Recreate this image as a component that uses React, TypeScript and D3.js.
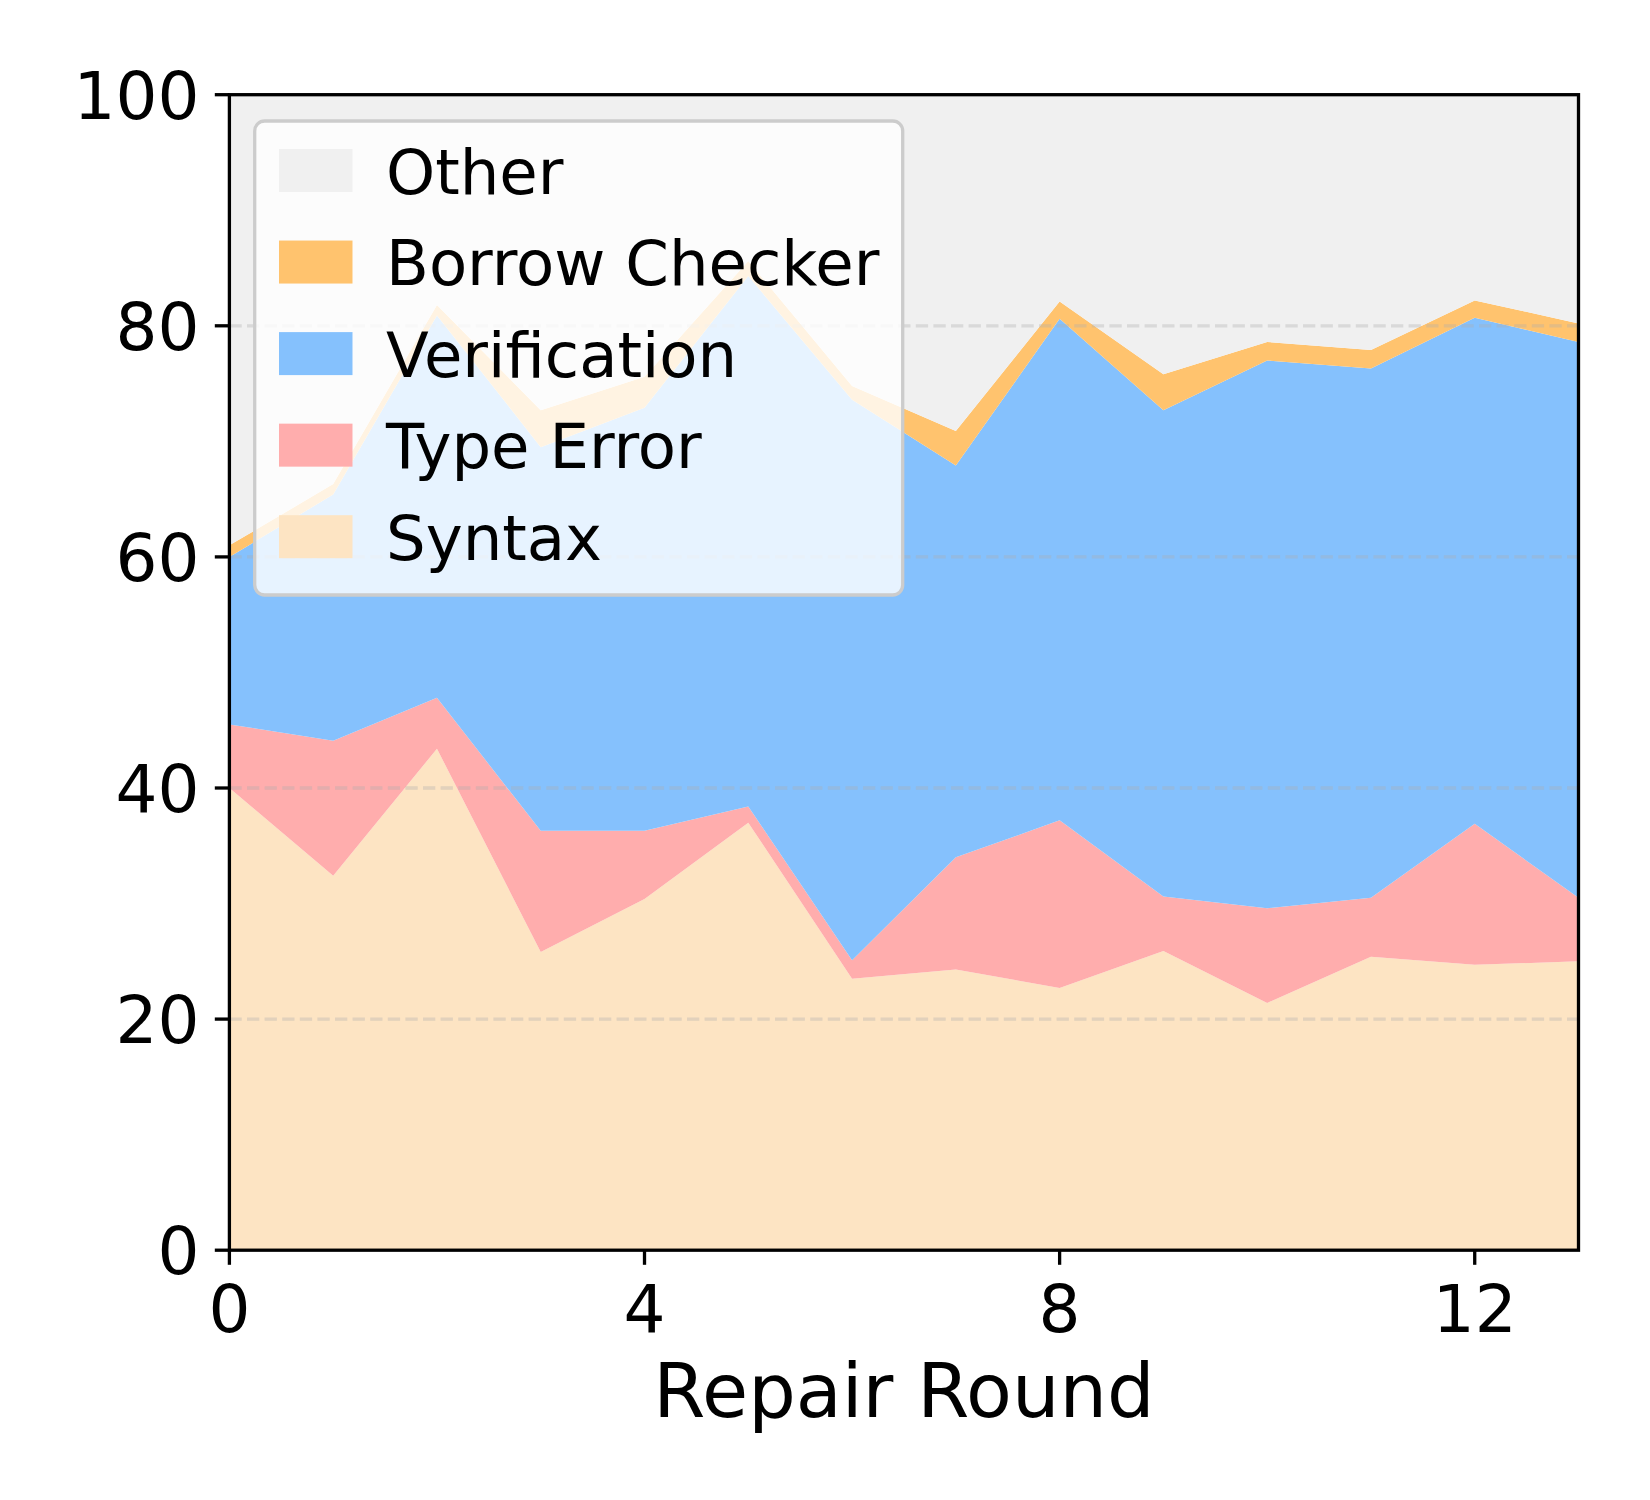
import React from 'react';
import * as d3 from 'd3';

// repair rounds (x) and the share of each error kind (%)
const rounds = [0, 1, 2, 3, 4, 5, 6, 7, 8, 9, 10, 11, 12, 13];
const syntax = [40.0, 32.4, 43.4, 25.8, 30.4, 37.0, 23.5, 24.3, 22.7, 25.9, 21.4, 25.4, 24.7, 25.0];
const typeError = [5.5, 11.7, 4.4, 10.5, 5.9, 1.4, 1.6, 9.7, 14.5, 4.7, 8.2, 5.1, 12.2, 5.5];
const verification = [14.5, 21.3, 33.1, 33.2, 36.6, 45.9, 48.5, 33.9, 43.4, 42.1, 47.4, 45.8, 43.8, 48.1];
const borrowChecker = [1.0, 0.9, 0.9, 3.2, 2.7, 1.3, 1.2, 3.0, 1.5, 3.1, 1.6, 1.6, 1.5, 1.6];

const seriesKeys = ['Syntax', 'Type Error', 'Verification', 'Borrow Checker', 'Other'];
const seriesColors = ['#fde4c3', '#ffadad', '#85c1fd', '#ffc36e', '#f0f0f0'];
const xTicks = [0, 4, 8, 12];
const yTicks = [0, 20, 40, 60, 80, 100];
const gridTicks = [20, 40, 60, 80];

const W = 1650;
const H = 1500;
const left = 229.4;
const right = 1578.5;
const top = 94.7;
const bottom = 1250.2;
const font = 'DejaVu Sans, sans-serif';

export default function App() {
  const rows = rounds.map((r, i) => {
    const used = syntax[i] + typeError[i] + verification[i] + borrowChecker[i];
    return {
      round: r,
      'Syntax': syntax[i],
      'Type Error': typeError[i],
      'Verification': verification[i],
      'Borrow Checker': borrowChecker[i],
      'Other': 100 - used,
    };
  });

  const x = d3.scaleLinear().domain([0, 13]).range([left, right]);
  const y = d3.scaleLinear().domain([0, 100]).range([bottom, top]);

  const stacked = d3.stack<any>().keys(seriesKeys)(rows);
  const area = d3.area<any>()
    .x(d => x(d.data.round))
    .y0(d => y(d[0]))
    .y1(d => y(Math.min(d[1], 100)));

  // legend, top-down order as in the picture
  const legendOrder = [4, 3, 2, 1, 0];
  const legendX = 254.7;
  const legendY = 121;
  const legendW = 648;
  const legendH = 474;
  const rowPitch = 91.55;
  const firstRow = 170.5;

  return (
    <svg width={W} height={H} style={{ position: 'absolute', left: 0, top: 0, background: '#fff' }}>
      {stacked.map((s, i) => (
        <path key={s.key} d={area(s) || ''} fill={seriesColors[i]} stroke="none" />
      ))}

      {/* dashed grid */}
      {gridTicks.map(t => (
        <line key={t} x1={left} x2={right} y1={y(t)} y2={y(t)}
          stroke="#b0b0b0" strokeOpacity={0.35} strokeWidth={3.3} strokeDasharray="12.3,5.3" />
      ))}

      {/* spines */}
      <rect x={left} y={top} width={right - left} height={bottom - top} fill="none" stroke="#000" strokeWidth={3.3} />

      {/* y axis */}
      {yTicks.map(t => (
        <g key={t}>
          <line x1={left - 14.6} x2={left} y1={y(t)} y2={y(t)} stroke="#000" strokeWidth={3.3} />
          <text x={left - 30} y={y(t) + 24} textAnchor="end" fontFamily={font} fontSize={66} fill="#000">{t}</text>
        </g>
      ))}

      {/* x axis */}
      {xTicks.map(t => (
        <g key={t}>
          <line x1={x(t)} x2={x(t)} y1={bottom} y2={bottom + 14.6} stroke="#000" strokeWidth={3.3} />
          <text x={x(t)} y={1332} textAnchor="middle" fontFamily={font} fontSize={66} fill="#000">{t}</text>
        </g>
      ))}
      <text x={(left + right) / 2} y={1417} textAnchor="middle" fontFamily={font} fontSize={75} fill="#000">Repair Round</text>

      {/* legend */}
      <rect x={legendX} y={legendY} width={legendW} height={legendH} rx={10} ry={10}
        fill="#fff" fillOpacity={0.8} stroke="#cccccc" strokeWidth={3.3} />
      {legendOrder.map((si, row) => {
        const cy = firstRow + row * rowPitch;
        return (
          <g key={seriesKeys[si]}>
            <rect x={279} y={cy - 21.5} width={73.5} height={43} fill={seriesColors[si]} />
            <text x={386} y={cy + 23} fontFamily={font} fontSize={62.5} fill="#000">{seriesKeys[si]}</text>
          </g>
        );
      })}
    </svg>
  );
}
